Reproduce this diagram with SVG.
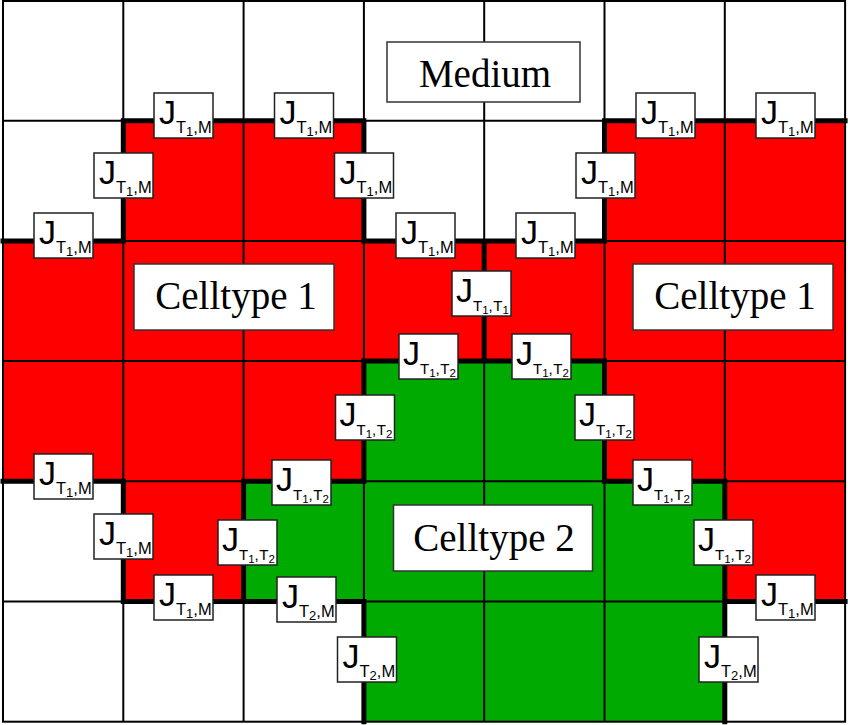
<svg xmlns="http://www.w3.org/2000/svg" width="848" height="725" viewBox="0 0 848 725">
<style>
.red{fill:#ff0000}
.grn{fill:#00aa00}
.thin{stroke:#000;stroke-width:2;fill:none}
.thick{stroke:#000;stroke-width:5;fill:none;stroke-linecap:square}
.lb{fill:#fff;stroke:#222;stroke-width:1.5}
.bb{fill:#fff;stroke:#333;stroke-width:1.5}
.j{font-family:"Liberation Sans",Arial,sans-serif;font-size:34px;fill:#000}
.s{font-size:16.5px}
.s2{font-size:15px}
.d{font-size:13px}
.d2{font-size:11.5px}
.big{font-family:"Liberation Serif","Times New Roman",serif;font-size:39px;fill:#000;text-anchor:middle}
</style>
<rect x="0" y="0" width="848" height="725" fill="#fff"/>
<g id="cells">
<rect class="red" x="123.3" y="120.7" width="240.6" height="120.2"/>
<rect class="red" x="604.5" y="120.7" width="240.6" height="120.2"/>
<rect class="red" x="3" y="240.9" width="842.1" height="120.2"/>
<rect class="red" x="3" y="361.1" width="360.9" height="120.2"/>
<rect class="grn" x="363.9" y="361.1" width="240.6" height="120.2"/>
<rect class="red" x="604.5" y="361.1" width="240.6" height="120.2"/>
<rect class="red" x="123.3" y="481.3" width="120.3" height="120.2"/>
<rect class="grn" x="243.6" y="481.3" width="481.2" height="120.2"/>
<rect class="red" x="724.8" y="481.3" width="120.3" height="120.2"/>
<rect class="grn" x="363.9" y="601.5" width="360.9" height="120.2"/>
</g>
<g id="connectors">
<path class="thin" d="M123.3 1V721.7M243.6 1V721.7M363.9 1V721.7M484.2 1V721.7M604.5 1V721.7M724.8 1V721.7M3 120.7H845.1M3 240.9H845.1M3 361.1H845.1M3 481.3H845.1M3 601.5H845.1"/>
<rect class="thin" x="3" y="1" width="842.1" height="720.7"/>
<path class="thick" d="M123.3 120.7H363.9M604.5 120.7H845.1M123.3 120.7V240.9M3 240.9H123.3M363.9 240.9H604.5M363.9 120.7V240.9M604.5 120.7V240.9M484.2 240.9V361.1M363.9 361.1H604.5M363.9 361.1V481.3M604.5 361.1V481.3M3 481.3H123.3M243.6 481.3H363.9M604.5 481.3H724.8M123.3 481.3V601.5M243.6 481.3V601.5M724.8 481.3V601.5M123.3 601.5H363.9M724.8 601.5H845.1M363.9 601.5V721.7M724.8 601.5V721.7"/>
</g>
<g id="medium"><rect class="bb" x="387" y="42" width="193" height="60"/><text class="big" x="485" y="87">Medium</text></g>
<g id="celltype1-left"><rect class="bb" x="134" y="264" width="200" height="66"/><text class="big" x="236" y="309">Celltype 1</text></g>
<g id="celltype1-right"><rect class="bb" x="633" y="264" width="200" height="66"/><text class="big" x="735" y="309">Celltype 1</text></g>
<g id="celltype2"><rect class="bb" x="393.5" y="505" width="199" height="66"/><text class="big" x="494" y="551">Celltype 2</text></g>
<g id="labels">
<g id="l1" transform="translate(154,93)"><rect class="lb" width="59" height="45"/><text class="j" x="5" y="31">J<tspan class="s" dy="8.5">T</tspan><tspan class="d" dy="3">1</tspan><tspan class="s" dy="-3">,M</tspan></text></g>
<g id="l2" transform="translate(274.5,93)"><rect class="lb" width="59" height="45"/><text class="j" x="5" y="31">J<tspan class="s" dy="8.5">T</tspan><tspan class="d" dy="3">1</tspan><tspan class="s" dy="-3">,M</tspan></text></g>
<g id="l3" transform="translate(636,93)"><rect class="lb" width="59" height="45"/><text class="j" x="5" y="31">J<tspan class="s" dy="8.5">T</tspan><tspan class="d" dy="3">1</tspan><tspan class="s" dy="-3">,M</tspan></text></g>
<g id="l4" transform="translate(756,93)"><rect class="lb" width="59" height="45"/><text class="j" x="5" y="31">J<tspan class="s" dy="8.5">T</tspan><tspan class="d" dy="3">1</tspan><tspan class="s" dy="-3">,M</tspan></text></g>
<g id="l5" transform="translate(94,153)"><rect class="lb" width="59" height="45"/><text class="j" x="5" y="31">J<tspan class="s" dy="8.5">T</tspan><tspan class="d" dy="3">1</tspan><tspan class="s" dy="-3">,M</tspan></text></g>
<g id="l6" transform="translate(334.5,153)"><rect class="lb" width="59" height="45"/><text class="j" x="5" y="31">J<tspan class="s" dy="8.5">T</tspan><tspan class="d" dy="3">1</tspan><tspan class="s" dy="-3">,M</tspan></text></g>
<g id="l7" transform="translate(576,153)"><rect class="lb" width="59" height="45"/><text class="j" x="5" y="31">J<tspan class="s" dy="8.5">T</tspan><tspan class="d" dy="3">1</tspan><tspan class="s" dy="-3">,M</tspan></text></g>
<g id="l8" transform="translate(34,213)"><rect class="lb" width="59" height="45"/><text class="j" x="5" y="31">J<tspan class="s" dy="8.5">T</tspan><tspan class="d" dy="3">1</tspan><tspan class="s" dy="-3">,M</tspan></text></g>
<g id="l9" transform="translate(396,213)"><rect class="lb" width="59" height="45"/><text class="j" x="5" y="31">J<tspan class="s" dy="8.5">T</tspan><tspan class="d" dy="3">1</tspan><tspan class="s" dy="-3">,M</tspan></text></g>
<g id="l10" transform="translate(516,213)"><rect class="lb" width="59" height="45"/><text class="j" x="5" y="31">J<tspan class="s" dy="8.5">T</tspan><tspan class="d" dy="3">1</tspan><tspan class="s" dy="-3">,M</tspan></text></g>
<g id="l11" transform="translate(452,271)"><rect class="lb" width="59" height="45"/><text class="j" x="4" y="31">J<tspan class="s2" dy="8.5">T</tspan><tspan class="d2" dy="3">1</tspan><tspan class="s2" dy="-3">,</tspan><tspan class="s2" dx="0.5">T</tspan><tspan class="d2" dy="3">1</tspan></text></g>
<g id="l12" transform="translate(399,334)"><rect class="lb" width="59" height="45"/><text class="j" x="4" y="31">J<tspan class="s2" dy="8.5">T</tspan><tspan class="d2" dy="3">1</tspan><tspan class="s2" dy="-3">,</tspan><tspan class="s2" dx="0.5">T</tspan><tspan class="d2" dy="3">2</tspan></text></g>
<g id="l13" transform="translate(512,334)"><rect class="lb" width="59" height="45"/><text class="j" x="4" y="31">J<tspan class="s2" dy="8.5">T</tspan><tspan class="d2" dy="3">1</tspan><tspan class="s2" dy="-3">,</tspan><tspan class="s2" dx="0.5">T</tspan><tspan class="d2" dy="3">2</tspan></text></g>
<g id="l14" transform="translate(335.5,395)"><rect class="lb" width="59" height="45"/><text class="j" x="4" y="31">J<tspan class="s2" dy="8.5">T</tspan><tspan class="d2" dy="3">1</tspan><tspan class="s2" dy="-3">,</tspan><tspan class="s2" dx="0.5">T</tspan><tspan class="d2" dy="3">2</tspan></text></g>
<g id="l15" transform="translate(575,395)"><rect class="lb" width="59" height="45"/><text class="j" x="4" y="31">J<tspan class="s2" dy="8.5">T</tspan><tspan class="d2" dy="3">1</tspan><tspan class="s2" dy="-3">,</tspan><tspan class="s2" dx="0.5">T</tspan><tspan class="d2" dy="3">2</tspan></text></g>
<g id="l16" transform="translate(34,454)"><rect class="lb" width="59" height="45"/><text class="j" x="5" y="31">J<tspan class="s" dy="8.5">T</tspan><tspan class="d" dy="3">1</tspan><tspan class="s" dy="-3">,M</tspan></text></g>
<g id="l17" transform="translate(272,460)"><rect class="lb" width="59" height="45"/><text class="j" x="4" y="31">J<tspan class="s2" dy="8.5">T</tspan><tspan class="d2" dy="3">1</tspan><tspan class="s2" dy="-3">,</tspan><tspan class="s2" dx="0.5">T</tspan><tspan class="d2" dy="3">2</tspan></text></g>
<g id="l18" transform="translate(633,460)"><rect class="lb" width="59" height="45"/><text class="j" x="4" y="31">J<tspan class="s2" dy="8.5">T</tspan><tspan class="d2" dy="3">1</tspan><tspan class="s2" dy="-3">,</tspan><tspan class="s2" dx="0.5">T</tspan><tspan class="d2" dy="3">2</tspan></text></g>
<g id="l19" transform="translate(94,514)"><rect class="lb" width="59" height="45"/><text class="j" x="5" y="31">J<tspan class="s" dy="8.5">T</tspan><tspan class="d" dy="3">1</tspan><tspan class="s" dy="-3">,M</tspan></text></g>
<g id="l20" transform="translate(218,520)"><rect class="lb" width="59" height="45"/><text class="j" x="4" y="31">J<tspan class="s2" dy="8.5">T</tspan><tspan class="d2" dy="3">1</tspan><tspan class="s2" dy="-3">,</tspan><tspan class="s2" dx="0.5">T</tspan><tspan class="d2" dy="3">2</tspan></text></g>
<g id="l21" transform="translate(694,520)"><rect class="lb" width="59" height="45"/><text class="j" x="4" y="31">J<tspan class="s2" dy="8.5">T</tspan><tspan class="d2" dy="3">1</tspan><tspan class="s2" dy="-3">,</tspan><tspan class="s2" dx="0.5">T</tspan><tspan class="d2" dy="3">2</tspan></text></g>
<g id="l22" transform="translate(154,575)"><rect class="lb" width="59" height="45"/><text class="j" x="5" y="31">J<tspan class="s" dy="8.5">T</tspan><tspan class="d" dy="3">1</tspan><tspan class="s" dy="-3">,M</tspan></text></g>
<g id="l23" transform="translate(277,577)"><rect class="lb" width="59" height="45"/><text class="j" x="5" y="31">J<tspan class="s" dy="8.5">T</tspan><tspan class="d" dy="3">2</tspan><tspan class="s" dy="-3">,M</tspan></text></g>
<g id="l24" transform="translate(756,575)"><rect class="lb" width="59" height="45"/><text class="j" x="5" y="31">J<tspan class="s" dy="8.5">T</tspan><tspan class="d" dy="3">1</tspan><tspan class="s" dy="-3">,M</tspan></text></g>
<g id="l25" transform="translate(337.5,637)"><rect class="lb" width="59" height="45"/><text class="j" x="5" y="31">J<tspan class="s" dy="8.5">T</tspan><tspan class="d" dy="3">2</tspan><tspan class="s" dy="-3">,M</tspan></text></g>
<g id="l26" transform="translate(699,637)"><rect class="lb" width="59" height="45"/><text class="j" x="5" y="31">J<tspan class="s" dy="8.5">T</tspan><tspan class="d" dy="3">2</tspan><tspan class="s" dy="-3">,M</tspan></text></g>
</g>
</svg>
